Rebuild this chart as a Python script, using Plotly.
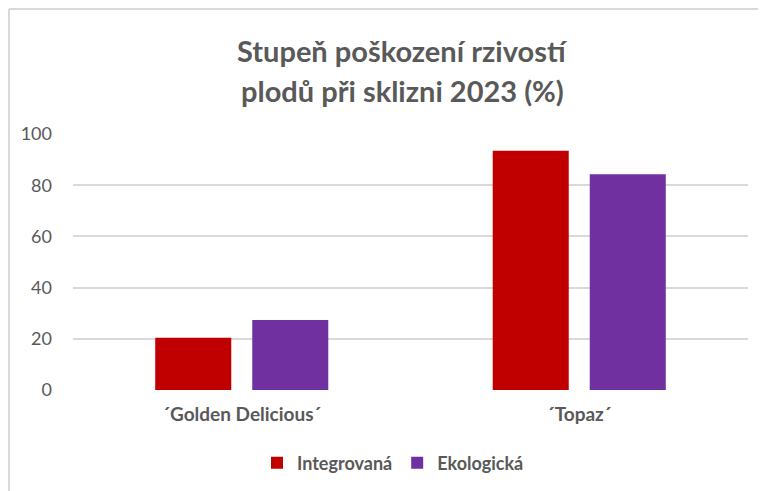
import plotly.graph_objects as go

categories = ["´Golden Delicious´", "´Topaz´"]
integrovana = [20.4, 93.5]
ekologicka = [27.3, 84.3]
series_names = ["Integrovaná", "Ekologická"]
tick_vals = [0, 20, 40, 60, 80, 100]
title_lines = ["Stupeň poškození rzivostí", "plodů při sklizni 2023 (%)"]

OFF = 8  # page body margin
W, H = 766 - OFF, 491 - OFF
# plot area in screen pixels: x 73..748, y 134..390
L = 73 - OFF
R = W - (748 - OFF)
T = 134 - OFF
B = H - (390 - OFF)
pw, ph = W - L - R, H - T - B

def px(x):
    return (x - OFF - L) / pw

def py(y):
    return (H - B - (y - OFF)) / ph

FONT = "Lato"
GRAY = "#595959"

fig = go.Figure()
fig.add_trace(go.Bar(x=categories, y=integrovana, name=series_names[0],
                     marker=dict(color="#C00000", line=dict(width=0))))
fig.add_trace(go.Bar(x=categories, y=ekologicka, name=series_names[1],
                     marker=dict(color="#7030A0", line=dict(width=0))))

fig.update_layout(
    width=W, height=H,
    margin=dict(l=L, r=R, t=T, b=B, autoexpand=False),
    paper_bgcolor="white", plot_bgcolor="white",
    barmode="group", bargap=0.425, bargroupgap=0.2165,
    font=dict(family=FONT, color=GRAY, size=16),
    showlegend=True,
    legend=dict(orientation="h", x=px(393), xanchor="center", y=py(463), yanchor="middle",
                font=dict(family=FONT, size=18, color=GRAY, weight="bold"),
                itemwidth=30, traceorder="normal", bgcolor="rgba(0,0,0,0)"),
    xaxis=dict(showgrid=False, showline=False, ticks="", zeroline=False,
               tickfont=dict(family=FONT, size=19, color=GRAY, weight="bold"),
               ticklabelstandoff=11),
    yaxis=dict(range=[0, 100], tickvals=tick_vals, showgrid=True, gridcolor="#d9d9d9",
               gridwidth=1.5, zeroline=False, showline=False, ticks="",
               tickfont=dict(family=FONT, size=18, color=GRAY),
               ticklabelstandoff=20),
)

for i, line in enumerate(title_lines):
    fig.add_annotation(text=line, xref="paper", yref="paper", x=px(402), y=py([50, 90][i]),
                       xanchor="center", yanchor="middle", showarrow=False,
                       font=dict(family=FONT, size=29, color=GRAY, weight="bold"))

# chart border (top and left only, cropped) drawn at the figure edge
fig.add_shape(type="line", xref="paper", yref="paper", x0=px(9), x1=px(766), y0=py(9), y1=py(9),
              line=dict(color="#d9d9d9", width=2))
fig.add_shape(type="line", xref="paper", yref="paper", x0=px(9), x1=px(9), y0=py(9), y1=py(491),
              line=dict(color="#d9d9d9", width=2))

fig.write_html("out.html")
